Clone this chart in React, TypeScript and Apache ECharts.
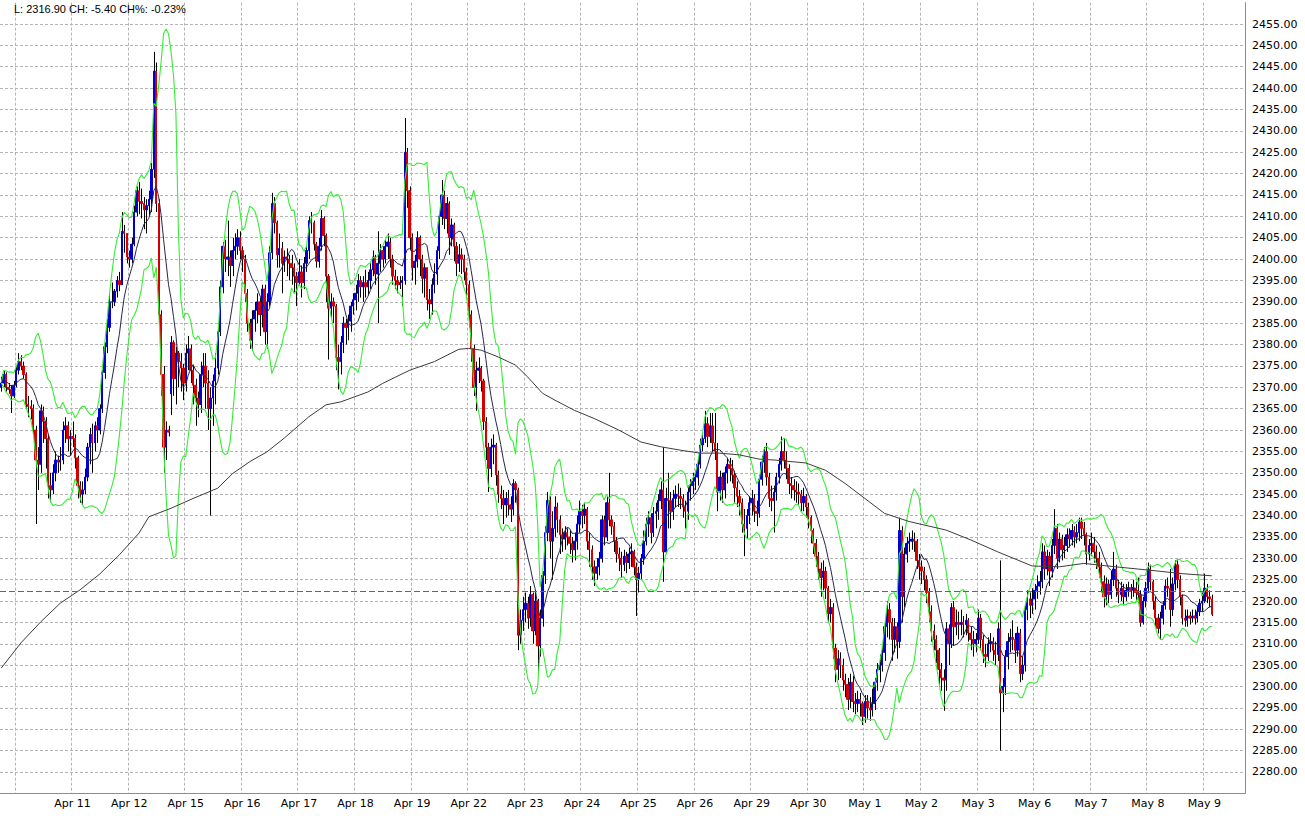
import React, { useEffect, useRef } from 'react';
import * as echarts from 'echarts';

// Each hourly bar: [close, high, low, open?]  (open defaults to previous close)
const pre = [
  [2371, 2372.5, 2369, 2370], [2373, 2374, 2370], [2370, 2373.5, 2369], [2369.5, 2371, 2368.5], [2368, 2370.5, 2364], [2370.5, 2371.5, 2367.5],
];
const apr10 = [
  [2374, 2375, 2370], [2376, 2378, 2373], [2375, 2377.5, 2374], [2373, 2376, 2372], [2366, 2373.5, 2365], [2365.5, 2368, 2363], [2365, 2367, 2362.5], [2360, 2366, 2359], [2353, 2361, 2338], [2352, 2356, 2346], [2364.5, 2366, 2350], [2362, 2365.5, 2357], [2358, 2363, 2351], [2347, 2359, 2344], [2346, 2350, 2343.5], [2350, 2352, 2345], [2353, 2355, 2348], [2352.5, 2354, 2350], [2353, 2356, 2350.5], [2360, 2362, 2352], [2361, 2363, 2357], [2358, 2362, 2355], [2358.5, 2360, 2354],
];
const apr11 = [
  [2358, 2362, 2356], [2353.5, 2359, 2351], [2347, 2354, 2344], [2345, 2348, 2343], [2346, 2348, 2342.5], [2349, 2351, 2345], [2356, 2357, 2348], [2359, 2360.5, 2352], [2357, 2361.5, 2350], [2361, 2362, 2355], [2360, 2363, 2357], [2365, 2366, 2359], [2373.5, 2374, 2364], [2379.5, 2380.5, 2372], [2384, 2386, 2378], [2390, 2392, 2383], [2390, 2394.5, 2388.5], [2392.5, 2393, 2389], [2395, 2396, 2391], [2394, 2397, 2392.5], [2406.5, 2411, 2394], [2406, 2408, 2401.5], [2400.5, 2406, 2399],
];
const apr12 = [
  [2400, 2402, 2398], [2403.5, 2405, 2399], [2411, 2412.5, 2403], [2416, 2417, 2410], [2413.5, 2418, 2410.5], [2413, 2416.5, 2409.5], [2411.5, 2414.5, 2407], [2412.5, 2414, 2406], [2414, 2416, 2410], [2421, 2422.5, 2411], [2444, 2448.5, 2419], [2413, 2446, 2411], [2387, 2414, 2384], [2373, 2388, 2368], [2356, 2375, 2350], [2360, 2362, 2353], [2359.5, 2361, 2358.5], [2380.5, 2382, 2363.5, 2368.5], [2372, 2381, 2368], [2378, 2379.5, 2366], [2376, 2378.5, 2370], [2374.5, 2378, 2369], [2371, 2375.5, 2367],
];
const apr15 = [
  [2378, 2380, 2369], [2379, 2382, 2374], [2374, 2380, 2371], [2370.5, 2375, 2366], [2367.5, 2372, 2361], [2366, 2369, 2363], [2373, 2376, 2364], [2375, 2378, 2370], [2371, 2378, 2365], [2365, 2374, 2360], [2367.5, 2370, 2340], [2371.5, 2373, 2361], [2374.5, 2378, 2366], [2383, 2384.5, 2373], [2393.5, 2395, 2382], [2403, 2404, 2392], [2400, 2404.5, 2397], [2400.5, 2409, 2396], [2398.5, 2402, 2393.5], [2402, 2405, 2396], [2403, 2406, 2400], [2405, 2407, 2401], [2402, 2406.5, 2400],
];
const apr16 = [
  [2400, 2403, 2397], [2392, 2401, 2390], [2385, 2393, 2383], [2381, 2386, 2379], [2386, 2388, 2378.5], [2388, 2390, 2383], [2390, 2392, 2385], [2387, 2391, 2382], [2393, 2394, 2384], [2383, 2394, 2380], [2390, 2392, 2379], [2401.5, 2403, 2389], [2413, 2415.5, 2400], [2408.5, 2414.5, 2406], [2401, 2409, 2398], [2402.5, 2406, 2398], [2399, 2404, 2392], [2400.5, 2402, 2397], [2400, 2402.5, 2396], [2399, 2401, 2395], [2398, 2401, 2394], [2396, 2399, 2392], [2394.5, 2397, 2389],
];
const apr17 = [
  [2397, 2400, 2394], [2394.5, 2398.5, 2391], [2399, 2400.5, 2393], [2402, 2403, 2397], [2409, 2410, 2400], [2408.5, 2411, 2406], [2403.5, 2409, 2402], [2399.5, 2404, 2398], [2403, 2405, 2398], [2409.5, 2411.5, 2402], [2405.5, 2410, 2403], [2396, 2406, 2390], [2388.5, 2396.5, 2376.5], [2390, 2392, 2386], [2389, 2391, 2385], [2377, 2389.5, 2374], [2376, 2380, 2369.5], [2380.5, 2382, 2373], [2385, 2386.5, 2378], [2384, 2386, 2380], [2385.5, 2387, 2381], [2389, 2390, 2383], [2390.5, 2392, 2387],
];
const apr18 = [
  [2392, 2394, 2388], [2395, 2396.5, 2390], [2393.5, 2396, 2391], [2394.5, 2396, 2390], [2393.5, 2397.5, 2391], [2395, 2397, 2391.5], [2397.5, 2399, 2393], [2400.5, 2402, 2396], [2396.5, 2401, 2394], [2399, 2406.5, 2385], [2402, 2403.5, 2397], [2400, 2403, 2398], [2403, 2404.5, 2399], [2404, 2406, 2400], [2400, 2405, 2398], [2396, 2401, 2394], [2395, 2397.5, 2393], [2394, 2396, 2392], [2394.5, 2396, 2393], [2395, 2396, 2389], [2425, 2433, 2394], [2416, 2426, 2412], [2405, 2417, 2402],
];
const apr19 = [
  [2398, 2406, 2395], [2399.5, 2401, 2394], [2405, 2406.5, 2398], [2400, 2405.5, 2396], [2395.5, 2401, 2392], [2398, 2399, 2391], [2390.5, 2398, 2388], [2389.5, 2393, 2386], [2394, 2395.5, 2387], [2396.5, 2399, 2392], [2402, 2403, 2394], [2410, 2411, 2400], [2415, 2418.5, 2408], [2409.5, 2416, 2407], [2413, 2414.5, 2406], [2405, 2413.5, 2401], [2408, 2409.5, 2403], [2403, 2408.5, 2399.5], [2399, 2404, 2396], [2401, 2403.5, 2397], [2400, 2402.5, 2396.5], [2397, 2401, 2395], [2394, 2398, 2391],
];
const apr22 = [
  [2387, 2395, 2384], [2379, 2388, 2376], [2370, 2380, 2368], [2374, 2376, 2364.5], [2374.5, 2377, 2371], [2371.5, 2375, 2369], [2362, 2372, 2360], [2356, 2363, 2353], [2351, 2357, 2345.5], [2356, 2358, 2349], [2356.5, 2359, 2352], [2349.5, 2357, 2347], [2345, 2350.5, 2343], [2344, 2347, 2341.5], [2342.5, 2346, 2338], [2344, 2345.5, 2339.5], [2342.5, 2346, 2340], [2341.5, 2344.5, 2338.5], [2347.5, 2348.5, 2340], [2346, 2348, 2343], [2312, 2346.5, 2308.5], [2315.5, 2318, 2310], [2318, 2321, 2313],
];
const apr23 = [
  [2319.5, 2322, 2315], [2316, 2321, 2313.5], [2321.5, 2323.5, 2314], [2313, 2322, 2310], [2320, 2322.5, 2312], [2309.5, 2320.5, 2303.5], [2316, 2318, 2307], [2326, 2327, 2314], [2336, 2337.5, 2324], [2343.5, 2345.5, 2334], [2334, 2344.5, 2330], [2337, 2341, 2325], [2342, 2344.5, 2335], [2339, 2343, 2336], [2335.5, 2340, 2331], [2334.5, 2337, 2331.5], [2336, 2337.5, 2332], [2335, 2337, 2333], [2333.5, 2336.5, 2331], [2332, 2335, 2329], [2334, 2336, 2329.5], [2338, 2340, 2332], [2341, 2343.5, 2336],
];
const apr24 = [
  [2340, 2342.5, 2337], [2341.5, 2343, 2338], [2334, 2342, 2332], [2332, 2336, 2328], [2328, 2333, 2325], [2326.5, 2329.5, 2323.5], [2328, 2330, 2325], [2330, 2331.5, 2326], [2339, 2340, 2329], [2335, 2340, 2333], [2343, 2344.5, 2334], [2339, 2350, 2337.5], [2337.5, 2340, 2335.5], [2334, 2338.5, 2331.5], [2331, 2335, 2329], [2330, 2332.5, 2327], [2328.5, 2331.5, 2325.5], [2330.5, 2332, 2327], [2329, 2331.5, 2326.5], [2331, 2332.5, 2327.5], [2331.5, 2333.5, 2328], [2328, 2332, 2326], [2325, 2329, 2316.5],
];
const apr25 = [
  [2326.5, 2328, 2322], [2330, 2331, 2325], [2334, 2336.5, 2328.5], [2338, 2339.5, 2333], [2339.5, 2341, 2335], [2336, 2340.5, 2333.5], [2340.5, 2342, 2335], [2341, 2343, 2337], [2343.5, 2345, 2339], [2346, 2348, 2341.5], [2331.5, 2356, 2324.5], [2344, 2346.5, 2331], [2343.5, 2350, 2337], [2341, 2345.5, 2337], [2344, 2346, 2339], [2345, 2347, 2342], [2344.5, 2347.5, 2342], [2344, 2346.5, 2341.5], [2342, 2345, 2339.5], [2341, 2343.5, 2337], [2345.5, 2347, 2339], [2347, 2348.5, 2343.5], [2348, 2350, 2345],
];
const apr26 = [
  [2349, 2350.5, 2346], [2352, 2353.5, 2347], [2356.5, 2358, 2351], [2358, 2359.5, 2355], [2361.5, 2364.5, 2357], [2358.5, 2363, 2356], [2361, 2364, 2357], [2357, 2364, 2355], [2355, 2364, 2353], [2345.5, 2357, 2341], [2349, 2350.5, 2343.5], [2346, 2350, 2343], [2350, 2351.5, 2344], [2352, 2353.5, 2347.5], [2351, 2353.5, 2348], [2349.5, 2353, 2347.5], [2346.5, 2350.5, 2343], [2344.5, 2348, 2342], [2343, 2346, 2340], [2338, 2344, 2336], [2337, 2341.5, 2330.5], [2340, 2341.5, 2334.5], [2343, 2344.5, 2338],
];
const apr29 = [
  [2344, 2346, 2340], [2341, 2345, 2338.5], [2340.5, 2343.5, 2337.5], [2348.5, 2349.5, 2339.5], [2352.5, 2354, 2347], [2355, 2356, 2350], [2349, 2357, 2347], [2344, 2350, 2342], [2343.5, 2347, 2341], [2345.5, 2347, 2336], [2349, 2350, 2343.5], [2352, 2353.5, 2347.5], [2355, 2358.5, 2350.5], [2353, 2358, 2351], [2351, 2355, 2348.5], [2347.5, 2352, 2345], [2347, 2349, 2344], [2346, 2348.5, 2343.5], [2345.5, 2348, 2343], [2345, 2347.5, 2342.5], [2343, 2346, 2341], [2344.5, 2346.5, 2341], [2342, 2345, 2339.5],
];
const apr30 = [
  [2339.5, 2343, 2337], [2336.5, 2340, 2333.5], [2333.5, 2337, 2331], [2330.5, 2334.5, 2328], [2327.5, 2331.5, 2325], [2325.5, 2329, 2321], [2327, 2329.5, 2322.5], [2323, 2328, 2320.5], [2317, 2323.5, 2315], [2318.5, 2320.5, 2315], [2309, 2319.5, 2306.5], [2304, 2310, 2301], [2306.5, 2308.5, 2301.5], [2305, 2308, 2302], [2301.5, 2306.5, 2299], [2300.5, 2303, 2297.5], [2297, 2302, 2294.5], [2301, 2303, 2295], [2296.5, 2302.5, 2294], [2296, 2298.5, 2293.5], [2297, 2299, 2294], [2296, 2298.5, 2293], [2293, 2296.5, 2291],
];
const may1 = [
  [2296.5, 2298, 2291.5], [2295, 2298, 2292.5], [2294.5, 2297.5, 2292], [2296, 2299.5, 2293], [2301, 2302, 2294.5], [2304, 2305.5, 2299], [2305, 2307.5, 2301], [2308, 2309.5, 2303.5], [2314, 2315.5, 2306], [2318, 2320, 2311.5], [2315, 2319.5, 2311], [2311, 2316, 2306], [2314, 2316, 2308], [2310.5, 2315, 2306.5], [2336.5, 2339.5, 2309], [2321, 2337.5, 2315], [2331, 2332.5, 2318.5], [2333.5, 2335, 2329], [2334, 2336, 2331.5], [2334.5, 2336.5, 2332], [2334, 2336, 2331.5], [2329.5, 2334.5, 2327.5], [2328, 2331, 2325],
];
const may2 = [
  [2327, 2329.5, 2324], [2325, 2328, 2322.5], [2322, 2326, 2319.5], [2317.5, 2323, 2315], [2313, 2319, 2310.5], [2311, 2314.5, 2308.5], [2308.5, 2312, 2305.5], [2304, 2309, 2300], [2302, 2305.5, 2299], [2301.5, 2304, 2294.3], [2313.5, 2315, 2299], [2310, 2314.5, 2305], [2318.5, 2319.5, 2309], [2314, 2320, 2309.5], [2315, 2318, 2312], [2314.5, 2317.5, 2311], [2315, 2318, 2312], [2314.5, 2316.5, 2311.5], [2315.5, 2317, 2312], [2312.5, 2316, 2310.5], [2311, 2314, 2308.5], [2310, 2313, 2307], [2311, 2312.5, 2308],
];
const may3 = [
  [2316, 2318, 2310], [2311, 2317, 2308.5], [2307.5, 2312, 2305.5], [2307, 2310, 2304.5], [2310, 2311.5, 2306], [2310.5, 2312.5, 2308], [2308.5, 2311.5, 2306], [2307.5, 2310.5, 2305], [2313.5, 2315, 2306], [2298.5, 2329.5, 2285], [2300, 2302, 2294], [2307, 2308.5, 2298], [2310.5, 2312.5, 2304], [2311.5, 2313.5, 2308], [2311, 2315.5, 2308.5], [2308.5, 2312.5, 2305.5], [2312.5, 2314, 2307], [2303, 2313.5, 2301], [2305, 2307, 2301.5], [2318, 2319.5, 2303.5], [2320.5, 2322.5, 2315.5], [2319, 2322, 2316], [2320.5, 2323, 2317],
];
const may6 = [
  [2322.5, 2324, 2318], [2323.5, 2326, 2320.5], [2324.5, 2327, 2321.5], [2331.5, 2333.5, 2323], [2327.5, 2333, 2325], [2330.5, 2332, 2326], [2327, 2331.5, 2323.5], [2333, 2334.5, 2325.5], [2337, 2341.5, 2331], [2330, 2338, 2327.5], [2334.5, 2336, 2329], [2332, 2335.5, 2329.5], [2333, 2335, 2330], [2335.5, 2337, 2331.5], [2334.5, 2337, 2332.5], [2336.5, 2338, 2333], [2335, 2337.5, 2332.5], [2336, 2338, 2333.5], [2338.5, 2339.5, 2334], [2337, 2339.5, 2334.5], [2335.5, 2338.5, 2333], [2331, 2336, 2328.5], [2333, 2334.5, 2329.5],
];
const may7 = [
  [2333.5, 2336, 2330.5], [2331.5, 2335, 2329], [2330, 2333, 2327.5], [2328, 2331.5, 2325.5], [2324.5, 2329, 2322], [2321, 2326, 2318.5], [2324, 2325.5, 2319], [2321.5, 2325, 2319.5], [2325, 2327, 2320.5], [2327.5, 2331.5, 2323.5], [2323, 2328.5, 2321], [2321.5, 2325, 2319.5], [2323, 2324.5, 2320], [2321, 2324, 2319], [2322.5, 2324, 2320], [2323, 2324.5, 2321], [2322.5, 2324, 2320.5], [2323, 2325, 2321], [2322, 2324.5, 2320], [2321.5, 2325.5, 2319.5], [2315, 2322.5, 2314], [2320, 2321, 2314.5], [2323, 2324.5, 2318.5],
];
const may8 = [
  [2327.5, 2329, 2322], [2324.5, 2328.5, 2322.5], [2320, 2325, 2318], [2316, 2321, 2314], [2313.6, 2317, 2312.4], [2316, 2317.5, 2311], [2319, 2320, 2314.5], [2323.5, 2325, 2318], [2323, 2325.5, 2321], [2318, 2327.5, 2314], [2324, 2325.5, 2316.5], [2328.5, 2329.5, 2322.5], [2325, 2329.5, 2323], [2321, 2326, 2319], [2316, 2321.5, 2314.5], [2315.5, 2318, 2314], [2316.5, 2318, 2314], [2316, 2317.5, 2314.5], [2316.5, 2318, 2315], [2316, 2318, 2314.5], [2317.5, 2319, 2315], [2319.5, 2320.5, 2316.5], [2320, 2322, 2317.5],
];
const may9 = [
  [2323, 2326.4, 2319.5], [2321, 2324, 2319.5], [2320.5, 2322.5, 2318.5], [2316.9, 2321.5, 2316.5],
];

const sessions = [apr10, apr11, apr12, apr15, apr16, apr17, apr18, apr19, apr22, apr23, apr24, apr25, apr26, apr29, apr30, may1, may2, may3, may6, may7, may8, may9];
const sessionLabels = ['', 'Apr 11', 'Apr 12', 'Apr 15', 'Apr 16', 'Apr 17', 'Apr 18', 'Apr 19', 'Apr 22', 'Apr 23', 'Apr 24', 'Apr 25', 'Apr 26', 'Apr 29', 'Apr 30', 'May 1', 'May 2', 'May 3', 'May 6', 'May 7', 'May 8', 'May 9'];

// long moving average: [bar index, value]
const longMaPoints = [
  [0, 2304.3], [8, 2310.2], [16, 2315.1], [24, 2319.5], [32, 2322.6], [40, 2326.3], [48, 2330.8], [56, 2335.9], [60, 2339.7], [69, 2341.7], [78, 2344], [88, 2346.4], [94, 2349.8], [101, 2352.6], [108, 2354.9], [115, 2358.1], [125, 2363.1], [132, 2365.9], [138, 2366.6], [149, 2368.9], [155, 2370.9], [166, 2374], [176, 2376], [186, 2378.9], [190, 2379.1], [195, 2378.7], [202, 2377.1], [209, 2375.2], [214, 2372.4], [220, 2368.6], [225, 2367], [233, 2364.6], [241, 2362.7], [251, 2360], [260, 2357.2], [268, 2356.1], [276, 2355.3], [284, 2354.6], [292, 2354.6], [300, 2354.2], [308, 2353.2], [314, 2353], [327, 2352.3], [335, 2350.6], [343, 2347.5], [351, 2344], [359, 2340.5], [369, 2338.6], [375, 2337.8], [384, 2336.6], [394, 2334.3], [405, 2331.5], [419, 2328.2], [430, 2328], [440, 2328.8], [453, 2328], [467, 2327.2], [480, 2326.4], [492, 2325.9],
];

const previousClose = 2322.3;
const headerText = 'L: 2316.90 CH: -5.40 CH%: -0.23%';
const yMin = 2275;
const yMax = 2460;
const yStep = 5;
const emptySlots = 13;
const bandPeriod = 10;
const bandWidthK = 2;

export default function App() {
  const ref = useRef<HTMLDivElement>(null);
  useEffect(() => {
    if (!ref.current) return;
    const chart = echarts.init(ref.current, null, { renderer: 'svg' });

    const rows: number[][] = [...pre, ...sessions.flat()];
    const dayStart = new Map<number, string>();
    let idx = pre.length;
    sessions.forEach((s, d) => { dayStart.set(idx, sessionLabels[d]); idx += s.length; });
    const total = rows.length + emptySlots;
    const categories = Array.from({ length: total }, (_, i) => 'b' + i);

    const opens: number[] = [], closes: number[] = [], highs: number[] = [], lows: number[] = [];
    let last: number | null = null;
    rows.forEach((r) => {
      const c = r[0];
      const o = r.length > 3 ? r[3] : (last ?? c);
      opens.push(o); closes.push(c);
      highs.push(Math.max(r[1], o, c)); lows.push(Math.min(r[2], o, c));
      last = c;
    });

    const mid: number[] = [], upper: number[] = [], lower: number[] = [];
    closes.forEach((_, i) => {
      const w = closes.slice(Math.max(0, i - bandPeriod + 1), i + 1);
      const m = w.reduce((a, b) => a + b, 0) / w.length;
      const sd = Math.sqrt(w.reduce((a, b) => a + (b - m) * (b - m), 0) / w.length);
      mid.push(+m.toFixed(2)); upper.push(+(m + bandWidthK * sd).toFixed(2)); lower.push(+(m - bandWidthK * sd).toFixed(2));
    });

    const candleData = rows.map((_, i) => [opens[i], closes[i], Math.min(opens[i], closes[i]), Math.max(opens[i], closes[i])]);
    const wickData = rows.map((_, i) => [i, lows[i], highs[i]]);

    const gridLine = { color: '#b4b4b4', type: [3, 2] as any, width: 1 };
    const labelFont = { color: '#000', fontFamily: 'DejaVu Sans', fontSize: 11 };
    const dayInterval = (i: number) => dayStart.has(i);

    chart.setOption({
      animation: false,
      backgroundColor: '#fff',
      title: {
        text: headerText, left: 14, top: 3, padding: 0,
        textStyle: { fontFamily: 'Liberation Sans, Arial', fontSize: 11, fontWeight: 'normal', color: '#000' },
      },
      grid: { left: 0, right: 60, top: 2.63, bottom: 25.63, containLabel: false, outerBoundsMode: 'none' },
      xAxis: {
        type: 'category', data: categories, boundaryGap: true,
        axisLine: { show: true, lineStyle: { color: '#8c8c8c' } },
        axisTick: { show: false },
        axisLabel: {
          ...labelFont, margin: 5, hideOverlap: false,
          interval: (i: number) => !!dayStart.get(i),
          formatter: (_v: string, i: number) => dayStart.get(i) || '',
        },
        splitLine: { show: true, interval: dayInterval, lineStyle: gridLine },
      },
      yAxis: {
        type: 'value', position: 'right', min: yMin, max: yMax, interval: yStep, scale: true,
        axisLine: { show: true, lineStyle: { color: '#8c8c8c' } },
        axisTick: { show: false },
        axisLabel: { ...labelFont, margin: 7, showMinLabel: false, showMaxLabel: false, formatter: (v: number) => v.toFixed(2) },
        splitLine: { show: true, lineStyle: gridLine, showMinLine: false, showMaxLine: false },
      },
      series: [
        {
          type: 'custom', name: 'wicks', data: wickData, z: 1, silent: true,
          encode: { x: 0, y: [1, 2] },
          renderItem: (_p: any, api: any) => {
            const x = api.value(0);
            const a = api.coord([x, api.value(1)]);
            const b = api.coord([x, api.value(2)]);
            const px = Math.round(a[0]) + 0.5;
            return { type: 'line', shape: { x1: px, y1: a[1], x2: px, y2: b[1] }, style: { stroke: '#000', lineWidth: 1 } };
          },
        },
        {
          type: 'candlestick', name: 'price', data: candleData, z: 2, silent: true, barWidth: 1.9,
          itemStyle: { color: '#0000d0', color0: '#d40000', borderColor: '#0000d0', borderColor0: '#d40000', borderWidth: 1 },
          markLine: {
            silent: true, symbol: 'none', label: { show: false },
            lineStyle: { color: '#666', type: [6, 3], width: 1 },
            data: [{ yAxis: previousClose }],
          },
        },
        { type: 'line', name: 'upper', data: upper, showSymbol: false, silent: true, z: 3, lineStyle: { color: '#33ee33', width: 1.1 } },
        { type: 'line', name: 'lower', data: lower, showSymbol: false, silent: true, z: 3, lineStyle: { color: '#33ee33', width: 1.1 } },
        { type: 'line', name: 'ma', data: mid, showSymbol: false, silent: true, z: 4, lineStyle: { color: '#262650', width: 1 } },
        { type: 'line', name: 'longMa', data: longMaPoints, showSymbol: false, silent: true, z: 4, lineStyle: { color: '#3c3c3c', width: 1 } },
      ],
    });
    return () => chart.dispose();
  }, []);
  return <div ref={ref} style={{ position: 'fixed', left: 0, top: 0, width: 1305, height: 819, background: '#fff' }} />;
}
